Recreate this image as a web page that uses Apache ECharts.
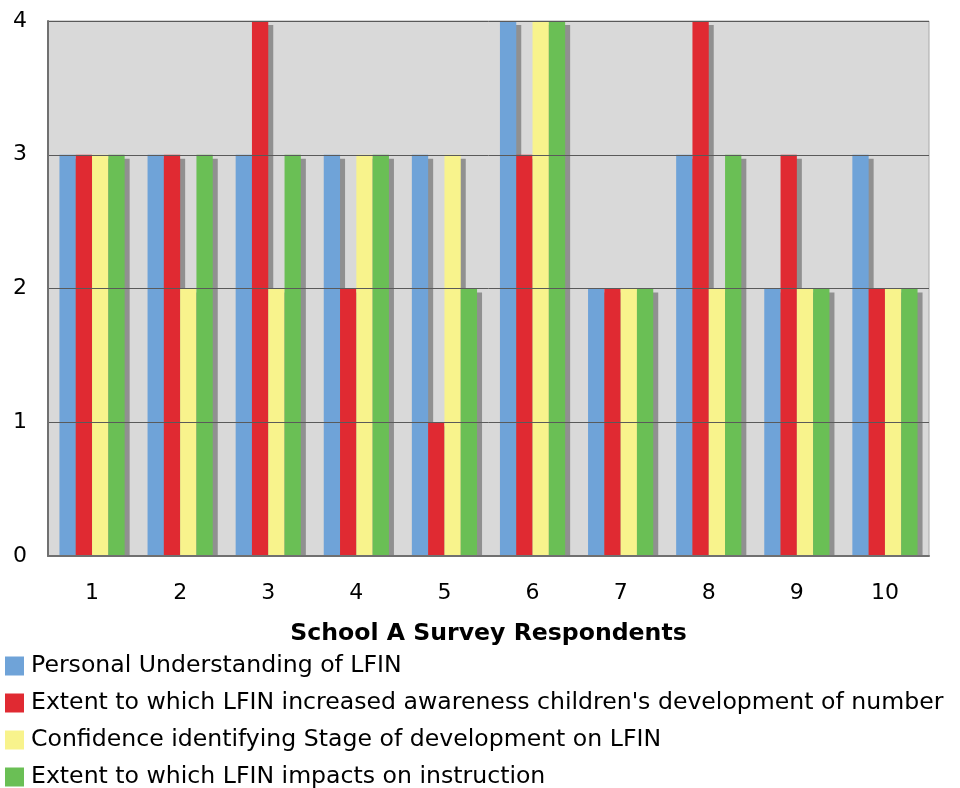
<!DOCTYPE html>
<html>
<head>
<meta charset="utf-8">
<script src="https://cdn.jsdelivr.net/npm/echarts@6/dist/echarts.min.js"></script>
<style>
  html, body { margin: 0; padding: 0; background: #ffffff; }
  #chart { width: 960px; height: 788px; }
</style>
</head>
<body>
<div id="chart"></div>
<script>
// Respondent numbers along the x axis
const respondents = ['1', '2', '3', '4', '5', '6', '7', '8', '9', '10'];

// Ratings per respondent, one array per survey question
const personalUnderstanding = [3, 3, 3, 3, 3, 4, 2, 3, 2, 3];
const awarenessOfNumber     = [3, 3, 4, 2, 1, 3, 2, 4, 3, 2];
const confidenceStage       = [3, 2, 2, 3, 3, 4, 2, 2, 2, 2];
const impactOnInstruction   = [3, 3, 3, 3, 2, 4, 2, 3, 2, 2];

const seriesNames = [
  'Personal Understanding of LFIN',
  "Extent to which LFIN increased awareness children's development of number",
  'Confidence identifying Stage of development on LFIN',
  'Extent to which LFIN impacts on instruction'
];
const seriesData = [personalUnderstanding, awarenessOfNumber, confidenceStage, impactOnInstruction];
const seriesColors = ['#6fa3d8', '#e02a32', '#f8f38c', '#6abf55'];

const FONT = '"DejaVu Sans", Verdana, sans-serif';

const chart = echarts.init(document.getElementById('chart'), null, { renderer: 'canvas' });

chart.setOption({
  animation: false,
  backgroundColor: '#ffffff',
  textStyle: { fontFamily: FONT },
  grid: {
    left: 48, top: 21, right: 31, bottom: 232,
    show: true,
    backgroundColor: '#d9d9d9',
    borderColor: '#a8a8a8',
    borderWidth: 1
  },
  // white strip under the baseline so bar shadows stop at the axis
  graphic: [{
    type: 'rect',
    z: 50,
    shape: { x: 40, y: 557, width: 900, height: 8 },
    style: { fill: '#ffffff' },
    silent: true
  }],
  xAxis: {
    type: 'category',
    data: respondents,
    z: 60,
    name: 'School A Survey Respondents',
    nameLocation: 'middle',
    nameGap: 66,
    nameTextStyle: { fontFamily: FONT, fontSize: 23.6, fontWeight: 'bold', color: '#000' },
    axisLine: { show: true, lineStyle: { color: '#707070', width: 2 } },
    axisTick: { show: false },
    axisLabel: { fontFamily: FONT, fontSize: 22, color: '#000', margin: 26 }
  },
  yAxis: {
    type: 'value',
    min: 0, max: 4, interval: 1,
    z: 60,
    axisLine: { show: true, lineStyle: { color: '#707070', width: 2 } },
    axisTick: { show: false },
    axisLabel: { fontFamily: FONT, fontSize: 22, color: '#000', margin: 21 },
    splitLine: { show: true, lineStyle: { color: '#5a5a5a', width: 1 } }
  },
  legend: {
    orient: 'vertical',
    left: 5, top: 654,
    height: 150,
    padding: 0,
    itemWidth: 19, itemHeight: 19,
    itemGap: 13,
    icon: 'rect',
    textStyle: { fontFamily: FONT, fontSize: 23.6, color: '#000', padding: [0, 0, 0, 2] },
    data: seriesNames
  },
  series: seriesNames.map((name, i) => ({
    name: name,
    type: 'bar',
    data: seriesData[i],
    barGap: '0%',
    barCategoryGap: '26%',
    itemStyle: {
      color: seriesColors[i],
      shadowColor: '#909090',
      shadowOffsetX: 5,
      shadowOffsetY: 4,
      shadowBlur: 0
    }
  }))
});
</script>
</body>
</html>
